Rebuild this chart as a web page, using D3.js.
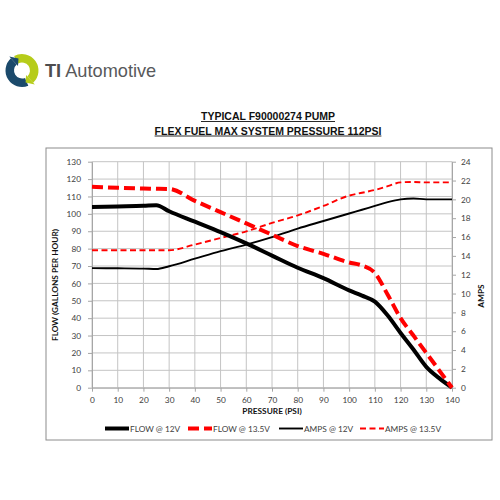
<!DOCTYPE html>
<html>
<head>
<meta charset="utf-8">
<script src="https://cdn.jsdelivr.net/npm/d3@7"></script>
<style>
  body { margin: 0; background: #fff; }
</style>
</head>
<body>
<div id="grafico"></div>
<script>
// datos
const presion = [0, 10, 20, 25, 30, 40, 50, 60, 70, 80, 90, 100, 105, 110, 115, 120, 125, 130, 135, 140];
const flujo12 = [104, 104.3, 104.6, 105, 101.5, 95.5, 89.5, 83, 76, 69, 63, 56, 53, 49.5, 41.5, 31.5, 22, 12, 5.5, 0];
const flujo135 = [115.6, 115, 114.6, 114.4, 114.3, 107.5, 101, 94.5, 88, 81.5, 77, 72, 70.3, 66, 53.5, 40, 30, 20, 10, 0];
const amps12 = [12.7, 12.68, 12.65, 12.6, 12.9, 13.7, 14.5, 15.2, 16.0, 16.9, 17.7, 18.5, 18.9, 19.3, 19.7, 20.0, 20.1, 20.0, 20.0, 20.0];
const amps135 = [14.6, 14.6, 14.6, 14.6, 14.6, 15.2, 15.9, 16.6, 17.5, 18.3, 19.3, 20.4, 20.7, 21.0, 21.4, 21.8, 21.85, 21.8, 21.8, 21.8];

const ticksPresion = d3.range(0, 141, 10);
const ticksFlujo = d3.range(0, 131, 10);
const ticksAmps = d3.range(0, 25, 2);

const nombresSeries = ["FLOW @ 12V", "FLOW @ 13.5V", "AMPS @ 12V", "AMPS @ 13.5V"];

const fuente = "Lato, 'Open Sans', sans-serif";

const svg = d3.select("#grafico").append("svg")
    .attr("width", 500)
    .attr("height", 500)
    .style("background", "#fff");

// logo
const logo = svg.append("g").attr("transform", "translate(22,70.5)");
const arco = d3.arc().innerRadius(8).outerRadius(16.5);
logo.append("path")
    .attr("d", arco({ startAngle: 2.75, endAngle: 5.55 }))
    .attr("fill", "#1b4a6b");
logo.append("path")
    .attr("d", arco({ startAngle: -0.5, endAngle: 2.4 }))
    .attr("fill", "#b6cc1a");
// puntas de flecha
function punta(angulo, color, dir) {
    const r1 = 6, r2 = 19;
    const a2 = angulo + dir * 0.45;
    const p = [
        [r1 * Math.sin(angulo), -r1 * Math.cos(angulo)],
        [r2 * Math.sin(angulo), -r2 * Math.cos(angulo)],
        [12.5 * Math.sin(a2), -12.5 * Math.cos(a2)]
    ];
    logo.append("path").attr("d", d3.line()(p) + "Z").attr("fill", color);
}
punta(5.55, "#1b4a6b", 1);
punta(2.4, "#b6cc1a", 1);

svg.append("text")
    .attr("x", 45).attr("y", 77)
    .attr("font-family", "'Liberation Sans', Arial, sans-serif")
    .attr("font-size", 18.2)
    .attr("fill", "#58595b")
    .call(t => {
        t.append("tspan").attr("font-weight", "bold").attr("fill", "#4d4d4f").text("TI");
        t.append("tspan").text(" Automotive");
    });

// marco del grafico
svg.append("rect")
    .attr("x", 46).attr("y", 148)
    .attr("width", 446).attr("height", 292)
    .attr("fill", "none")
    .attr("stroke", "#8c8c8c")
    .attr("stroke-width", 1);

// titulo
const titulos = ["TYPICAL F90000274 PUMP", "FLEX FUEL MAX SYSTEM PRESSURE 112PSI"];
titulos.forEach((txt, i) => {
    const t = svg.append("text")
        .attr("x", 268).attr("y", 120 + i * 14.5)
        .attr("text-anchor", "middle")
        .attr("font-family", "'Liberation Sans', Arial, sans-serif")
        .attr("font-weight", "bold")
        .attr("font-size", 10.5)
        .attr("fill", "#111")
        .text(txt);
    const w = t.node().getComputedTextLength();
    svg.append("line")
        .attr("x1", 268 - w / 2).attr("x2", 268 + w / 2)
        .attr("y1", 121.5 + i * 14.5).attr("y2", 121.5 + i * 14.5)
        .attr("stroke", "#111").attr("stroke-width", 0.9);
});

// escalas
const x = d3.scaleLinear().domain([0, 140]).range([92, 452]);
const yFlujo = d3.scaleLinear().domain([0, 130]).range([387.7, 161.7]);
const yAmps = d3.scaleLinear().domain([0, 24]).range([387.7, 161.7]);

// rejilla
const rejilla = svg.append("g");
rejilla.selectAll(".v").data(ticksPresion).join("line")
    .attr("x1", d => x(d)).attr("x2", d => x(d))
    .attr("y1", yFlujo(0)).attr("y2", yFlujo(130))
    .attr("stroke", "#c4c4c4").attr("stroke-width", 1);
rejilla.selectAll(".h").data(ticksFlujo).join("line")
    .attr("x1", x(0)).attr("x2", x(140))
    .attr("y1", d => yFlujo(d)).attr("y2", d => yFlujo(d))
    .attr("stroke", "#c4c4c4").attr("stroke-width", 1);

// ejes
function estiloEje(g) {
    g.select(".domain").attr("stroke", "#a6a6a6");
    g.selectAll(".tick line").attr("stroke", "#a6a6a6");
    g.selectAll(".tick text")
        .attr("font-family", fuente)
        .attr("font-size", 8.3)
        .attr("fill", "#404040");
}

svg.append("g")
    .attr("transform", `translate(0,${yFlujo(0)})`)
    .call(d3.axisBottom(x).tickValues(ticksPresion).tickSize(4).tickPadding(5).tickSizeOuter(0))
    .call(estiloEje);

svg.append("g")
    .attr("transform", `translate(${x(0)},0)`)
    .call(d3.axisLeft(yFlujo).tickValues(ticksFlujo).tickSize(4).tickPadding(7).tickSizeOuter(0))
    .call(estiloEje);

svg.append("g")
    .attr("transform", `translate(${x(140)},0)`)
    .call(d3.axisRight(yAmps).tickValues(ticksAmps).tickSize(4).tickPadding(5).tickSizeOuter(0))
    .call(estiloEje);

// titulos de ejes
svg.append("text")
    .attr("x", 272).attr("y", 414)
    .attr("text-anchor", "middle")
    .attr("font-family", fuente).attr("font-weight", "bold")
    .attr("font-size", 8.3).attr("fill", "#111")
    .text("PRESSURE (PSI)");

svg.append("text")
    .attr("transform", "translate(58,285) rotate(-90)")
    .attr("text-anchor", "middle")
    .attr("font-family", fuente).attr("font-weight", "bold")
    .attr("font-size", 8.3).attr("fill", "#111")
    .text("FLOW (GALLONS PER HOUR)");

svg.append("text")
    .attr("transform", "translate(484,296) rotate(-90)")
    .attr("text-anchor", "middle")
    .attr("font-family", fuente).attr("font-weight", "bold")
    .attr("font-size", 8.3).attr("fill", "#111")
    .text("AMPS");

// series
const series = [
    { nombre: nombresSeries[0], valores: flujo12, escala: yFlujo, color: "#000", ancho: 4, guion: null },
    { nombre: nombresSeries[1], valores: flujo135, escala: yFlujo, color: "#ff0000", ancho: 4, guion: "11 5" },
    { nombre: nombresSeries[2], valores: amps12, escala: yAmps, color: "#000", ancho: 1.9, guion: null },
    { nombre: nombresSeries[3], valores: amps135, escala: yAmps, color: "#ff0000", ancho: 1.9, guion: "6 3.5" }
];

const dibujo = [series[2], series[3], series[0], series[1]];
dibujo.forEach(s => {
    const linea = d3.line()
        .x((d, i) => x(presion[i]))
        .y(d => s.escala(d))
        .curve(d3.curveMonotoneX);
    svg.append("path")
        .datum(s.valores)
        .attr("d", linea)
        .attr("fill", "none")
        .attr("stroke", s.color)
        .attr("stroke-width", s.ancho)
        .attr("stroke-dasharray", s.guion)
        .attr("stroke-linejoin", "round");
});

// leyenda
const posLeyenda = [105, 188, 279, 360];
const leyenda = svg.append("g").attr("transform", "translate(0,428.5)");
series.forEach((s, i) => {
    const g = leyenda.append("g").attr("transform", `translate(${posLeyenda[i]},0)`);
    g.append("line")
        .attr("x1", 0).attr("x2", 24)
        .attr("stroke", s.color)
        .attr("stroke-width", s.ancho)
        .attr("stroke-dasharray", s.guion);
    g.append("text")
        .attr("x", 25).attr("y", 3)
        .attr("font-family", fuente)
        .attr("font-size", 8.3)
        .attr("fill", "#404040")
        .text(s.nombre);
});
</script>
</body>
</html>
